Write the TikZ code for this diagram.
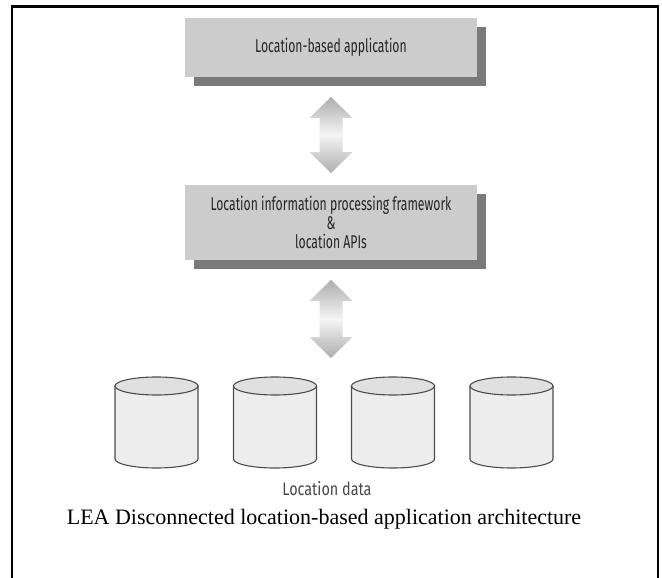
\documentclass[tikz,border=0pt]{standalone}
\usepackage{fontspec}
\setmainfont{Liberation Serif}
\newfontfamily\boxfont[FakeStretch=0.66]{Fira Sans}
\newfontfamily\lblfont[FakeStretch=0.8]{Fira Sans}
\usetikzlibrary{shadows,calc}
\tikzset{
  layer/.style={fill=black!20, minimum width=292pt, inner sep=0pt, align=center,
    font=\boxfont\fontsize{18.5}{19}\selectfont, text=black!85,
    drop shadow={shadow xshift=9pt, shadow yshift=-9pt, fill=black!52, opacity=1}},
  fatarrow/.style={top color=black!32, bottom color=black!32, middle color=black!4, draw=none},
  dbbody/.style={fill=black!7, draw=black!70, line width=1.1pt},
  dbtop/.style={fill=black!12, draw=black!70, line width=1.1pt},
  lbl/.style={font=\lblfont\fontsize{18}{20}\selectfont, text=black!72, inner sep=0pt}
}
\begin{document}
\begin{tikzpicture}[x=1pt,y=-1pt]
\useasboundingbox (0,0) rectangle (662,578);
\fill[white] (0,0) rectangle (662,578);
% frame
\draw[line width=2.4pt] (12,580) -- (12,6.5) -- (658,6.5) -- (658,580);
% boxes
\node[layer, minimum height=59pt] (app) at (331,47.5) {Location-based application};
\node[layer, minimum height=75pt] (fw) at (331,222.5) {Location information processing framework\\\&\\location APIs};
% arrows
\foreach \cx/\ya/\yb in {331/97/173, 331/280/358}{
  \path[fatarrow] (\cx,\ya) -- (\cx+21.5,\ya+21) -- (\cx+11.5,\ya+21) -- (\cx+11.5,\yb-21)
     -- (\cx+21.5,\yb-21) -- (\cx,\yb) -- (\cx-21.5,\yb-21) -- (\cx-11.5,\yb-21)
     -- (\cx-11.5,\ya+21) -- (\cx-21.5,\ya+21) -- cycle;
}
% data stores
\foreach \n/\cx in {1/156.5, 2/275, 3/393, 4/511.5}{
  \coordinate (db\n) at (\cx,386);
  \draw[dbbody] ($(db\n)+(-41.5,0)$) -- ($(db\n)+(-41.5,73)$)
     arc[start angle=180, end angle=0, x radius=41.5, y radius=9]
     -- ($(db\n)+(41.5,0)$) -- cycle;
  \draw[dbtop] (db\n) ellipse[x radius=41.5, y radius=9];
}
\node[lbl] (ld) at (327,489) {Location data};
\node[font=\fontsize{22}{26}\selectfont, inner sep=0pt] (cap) at (324,519) {LEA Disconnected location-based application architecture};
\end{tikzpicture}
\end{document}
